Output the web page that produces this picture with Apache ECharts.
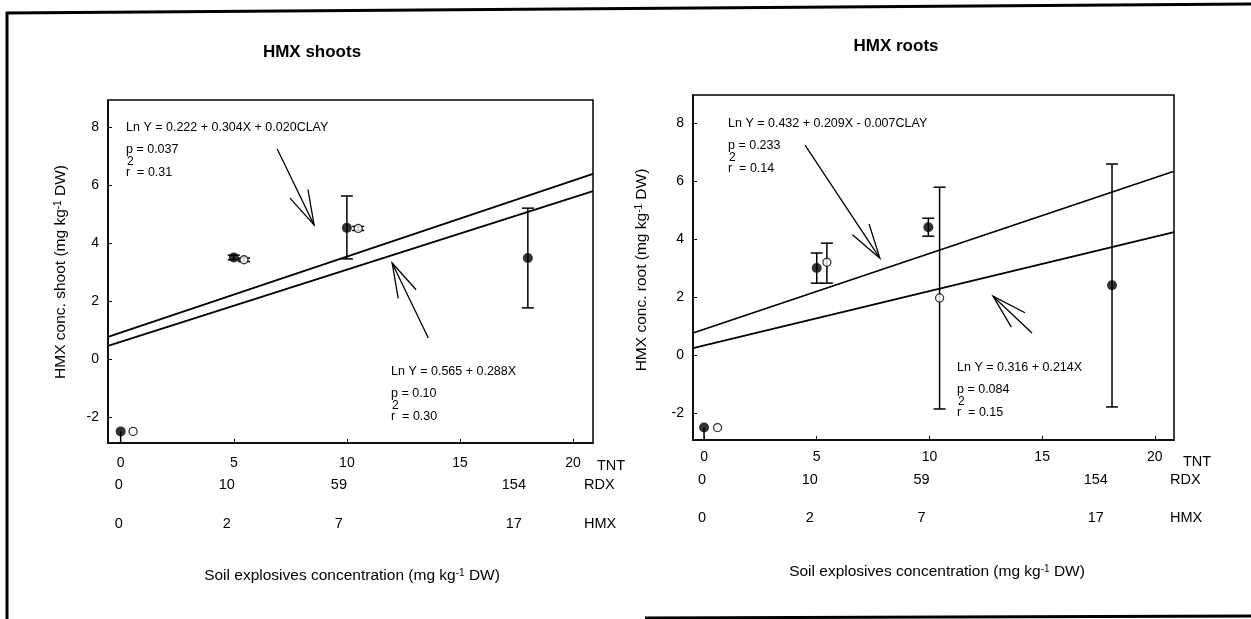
<!DOCTYPE html>
<html>
<head>
<meta charset="utf-8">
<script src="https://cdn.jsdelivr.net/npm/echarts@6/dist/echarts.min.js"></script>
<style>
  html, body { margin: 0; padding: 0; background: #fff; }
  #chart { width: 1251px; height: 619px; }
</style>
</head>
<body>
<div id="chart"></div>
<script>
const FONT = '"Liberation Sans", Arial, Helvetica, sans-serif';

// axis ticks
const tntTicks = [0, 5, 10, 15, 20];
const yTicks = [-2, 0, 2, 4, 6, 8];

// soil treatments: TNT level and matching RDX / HMX levels
const treatTNT = [0, 5, 10, 18];
const rdxLabels = ["0", "10", "59", "154"];
const hmxLabels = ["0", "2", "7", "17"];

// [x, mean, low, high]  (low == high -> no error bar)
const shootFilled = [[0, -2.5, -2.95, -2.5], [5, 3.5, 3.42, 3.58], [10, 4.52, 3.45, 5.62], [18, 3.48, 1.76, 5.2]];
const shootOpen = [[0.55, -2.5, -2.5, -2.5], [5.45, 3.42, 3.36, 3.48], [10.5, 4.5, 4.43, 4.57]];
const rootFilled = [[0, -2.5, -2.95, -2.5], [5, 3.0, 2.48, 3.52], [9.95, 4.41, 4.1, 4.72], [18.1, 2.41, -1.79, 6.59]];
const rootOpen = [[0.6, -2.5, -2.5, -2.5], [5.45, 3.2, 2.48, 3.86], [10.45, 1.97, -1.86, 5.79]];

// regression lines, end points read at the frame edges
const shootLineClay = [[-0.56, 0.76], [20.88, 6.38]];
const shootLine = [[-0.56, 0.45], [20.88, 5.79]];
const rootLineClay = [[-0.49, 0.76], [20.85, 6.34]];
const rootLine = [[-0.49, 0.24], [20.85, 4.24]];

// arrows [tailX, tailY, tipX, tipY]
const shootArrows = [[6.92, 7.24, 8.55, 4.62], [13.6, 0.72, 12.0, 3.31]];
const rootArrows = [[4.48, 7.24, 7.8, 3.34], [14.55, 0.76, 12.82, 2.03]];

const chart = echarts.init(document.getElementById("chart"), null, { renderer: "canvas" });

function errorBarItem(params, api) {
  const x = api.value(0), mean = api.value(1), lo = api.value(2), hi = api.value(3);
  if (hi - lo < 1e-9) return null;
  const top = api.coord([x, hi]);
  const bot = api.coord([x, lo]);
  const w = 6;
  const style = { stroke: "#000", lineWidth: 1.5 };
  const parts = [{ type: "line", shape: { x1: top[0], y1: top[1], x2: bot[0], y2: bot[1] }, style }];
  if (hi !== mean) parts.push({ type: "line", shape: { x1: top[0] - w, y1: top[1], x2: top[0] + w, y2: top[1] }, style });
  if (lo !== mean) parts.push({ type: "line", shape: { x1: bot[0] - w, y1: bot[1], x2: bot[0] + w, y2: bot[1] }, style });
  return { type: "group", children: parts };
}

function arrowItem(params, api) {
  const a = api.coord([api.value(0), api.value(1)]);
  const b = api.coord([api.value(2), api.value(3)]);
  const ang = Math.atan2(a[1] - b[1], a[0] - b[0]);
  const len = 36, spread = 0.28;
  const p1 = [b[0] + len * Math.cos(ang + spread), b[1] + len * Math.sin(ang + spread)];
  const p2 = [b[0] + len * Math.cos(ang - spread), b[1] + len * Math.sin(ang - spread)];
  const style = { stroke: "#000", lineWidth: 1.3, fill: null };
  return {
    type: "group",
    children: [
      { type: "line", shape: { x1: a[0], y1: a[1], x2: b[0], y2: b[1] }, style },
      { type: "polyline", shape: { points: [p1, b, p2] }, style },
    ],
  };
}

const panels = [
  { grid: { left: 108, top: 100, width: 485, height: 343 }, xr: [-0.56, 20.88], yr: [-2.9, 8.93], labelGap: 13,
    filled: shootFilled, open: shootOpen, lines: [shootLineClay, shootLine], arrows: shootArrows },
  { grid: { left: 693, top: 95, width: 481, height: 345 }, xr: [-0.49, 20.85], yr: [-2.93, 8.97], labelGap: 10,
    filled: rootFilled, open: rootOpen, lines: [rootLineClay, rootLine], arrows: rootArrows },
];

const grids = [], xAxes = [], yAxes = [], series = [];
panels.forEach((p, i) => {
  grids.push(Object.assign({ show: true, borderColor: "#000", borderWidth: 1.5, backgroundColor: "#fff" }, p.grid));
  xAxes.push({
    gridIndex: i, type: "value", min: p.xr[0], max: p.xr[1],
    axisLine: { show: true, onZero: false, lineStyle: { color: "#000", width: 1.5 } },
    axisTick: { show: true, inside: true, length: 4, customValues: tntTicks, lineStyle: { color: "#000" } },
    axisLabel: { customValues: tntTicks, color: "#000", fontSize: 14, fontFamily: FONT, margin: p.labelGap },
    splitLine: { show: false },
  });
  yAxes.push({
    gridIndex: i, type: "value", min: p.yr[0], max: p.yr[1],
    axisLine: { show: true, onZero: false, lineStyle: { color: "#000", width: 1.5 } },
    axisTick: { show: true, inside: true, length: 4, customValues: yTicks, lineStyle: { color: "#000" } },
    axisLabel: { customValues: yTicks, color: "#000", fontSize: 14, fontFamily: FONT, margin: 9 },
    splitLine: { show: false },
  });
  p.lines.forEach((ln) => {
    series.push({ type: "line", xAxisIndex: i, yAxisIndex: i, data: ln, symbol: "none", silent: true,
      lineStyle: { color: "#000", width: 1.8 } });
  });
  series.push({ type: "custom", xAxisIndex: i, yAxisIndex: i, renderItem: errorBarItem, clip: true,
    data: p.filled.concat(p.open), encode: { x: 0, y: [1, 2, 3] }, z: 3 });
  series.push({ type: "scatter", xAxisIndex: i, yAxisIndex: i, data: p.filled.map((d) => [d[0], d[1]]),
    symbol: "circle", symbolSize: 10, itemStyle: { color: "#000" }, z: 5 });
  series.push({ type: "scatter", xAxisIndex: i, yAxisIndex: i, data: p.open.map((d) => [d[0], d[1]]),
    symbol: "circle", symbolSize: 8, itemStyle: { color: "#fff", borderColor: "#000", borderWidth: 1.3 }, z: 5 });
  series.push({ type: "custom", xAxisIndex: i, yAxisIndex: i, renderItem: arrowItem,
    data: p.arrows, encode: { x: [0, 2], y: [1, 3] }, z: 4 });
});

chart.setOption({
  animation: false,
  backgroundColor: "#fff",
  grid: grids,
  xAxis: xAxes,
  yAxis: yAxes,
  series,
});

// text helpers
function txt(x, y, text, font, style) {
  return {
    type: "text", x, y, z: 10,
    style: Object.assign({ text, font: typeof font === "number" ? `${font}px ${FONT}` : font,
      fill: "#000", textAlign: "left", textVerticalAlign: "middle" }, style || {}),
  };
}
const supRich = { sup: { fontSize: 10, fontFamily: FONT, verticalAlign: "top", fill: "#000" } };

function statBlock(x, y, eq, p, r2) {
  return [
    txt(x, y, eq, 12.5),
    txt(x, y + 22, p, 12.5),
    txt(x + 1, y + 34, "2", 12),
    txt(x, y + 45, "r  " + r2, 12.5),
  ];
}

const g = [];
// outer frame from the scan
g.push({ type: "line", shape: { x1: 6, y1: 13, x2: 1251, y2: 4 }, style: { stroke: "#000", lineWidth: 3 } });
g.push({ type: "line", shape: { x1: 7, y1: 12, x2: 7, y2: 619 }, style: { stroke: "#000", lineWidth: 3 } });
g.push({ type: "line", shape: { x1: 645, y1: 618, x2: 1251, y2: 616 }, style: { stroke: "#000", lineWidth: 3 } });

// titles
g.push(txt(312, 52, "HMX shoots", `bold 17px ${FONT}`, { textAlign: "center" }));
g.push(txt(896, 46, "HMX roots", `bold 17px ${FONT}`, { textAlign: "center" }));

// y axis names
g.push({ type: "text", x: 61, y: 272, rotation: Math.PI / 2, z: 10,
  style: { text: "HMX conc. shoot (mg kg{sup|-1} DW)", rich: supRich, font: `15.5px ${FONT}`, fill: "#000", textAlign: "center", textVerticalAlign: "middle" } });
g.push({ type: "text", x: 642, y: 270, rotation: Math.PI / 2, z: 10,
  style: { text: "HMX conc. root (mg kg{sup|-1} DW)", rich: supRich, font: `15.5px ${FONT}`, fill: "#000", textAlign: "center", textVerticalAlign: "middle" } });

// x axis names
g.push(txt(352, 576, "Soil explosives concentration (mg kg{sup|-1} DW)", 15.5, { textAlign: "center", rich: supRich }));
g.push(txt(937, 572, "Soil explosives concentration (mg kg{sup|-1} DW)", 15.5, { textAlign: "center", rich: supRich }));

// regression statistics
statBlock(126, 128, "Ln Y = 0.222 + 0.304X + 0.020CLAY", "p = 0.037", "= 0.31").forEach((e) => g.push(e));
statBlock(391, 372, "Ln Y = 0.565 + 0.288X", "p = 0.10", "= 0.30").forEach((e) => g.push(e));
statBlock(728, 124, "Ln Y = 0.432 + 0.209X - 0.007CLAY", "p = 0.233", "= 0.14").forEach((e) => g.push(e));
statBlock(957, 368, "Ln Y = 0.316 + 0.214X", "p = 0.084", "= 0.15").forEach((e) => g.push(e));

// treatment rows under each x axis
const rowShift = [-2, -7, -8, -14];
const rowY = [[485, 524], [480, 518]];
const nameX = [584, 1170];
const tntY = [466, 462];
[0, 1].forEach((i) => {
  treatTNT.forEach((t, k) => {
    const px = chart.convertToPixel({ xAxisIndex: i }, t) + rowShift[k];
    g.push(txt(px, rowY[i][0], rdxLabels[k], 14.5, { textAlign: "center" }));
    g.push(txt(px, rowY[i][1], hmxLabels[k], 14.5, { textAlign: "center" }));
  });
  g.push(txt(nameX[i] + 13, tntY[i], "TNT", 14.5));
  g.push(txt(nameX[i], rowY[i][0], "RDX", 14.5));
  g.push(txt(nameX[i], rowY[i][1], "HMX", 14.5));
});

chart.setOption({ graphic: g });
</script>
</body>
</html>
